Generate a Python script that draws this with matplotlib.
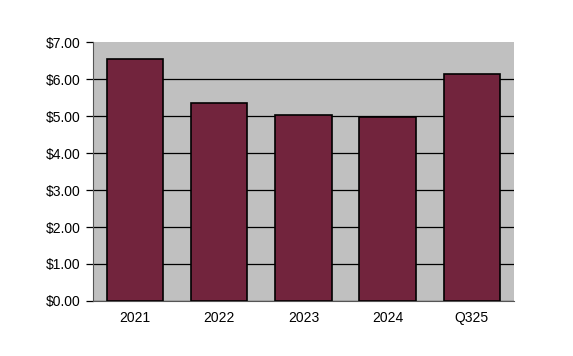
import matplotlib
matplotlib.use('Agg')
import matplotlib.pyplot as plt
from matplotlib.ticker import FuncFormatter

categories = ['2021', '2022', '2023', '2024', 'Q325']
values = [6.54, 5.36, 5.03, 4.97, 6.13]

plt.rcParams['font.family'] = ['Liberation Sans', 'DejaVu Sans']

fig = plt.figure(figsize=(5.73, 3.56), dpi=100)
ax = fig.add_axes([0.1623, 0.1545, 0.7347, 0.7275])
ax.set_facecolor('#C0C0C0')

ax.bar(range(len(categories)), values, width=0.67,
       color='#72243D', edgecolor='black', linewidth=1.2, zorder=3)

ax.set_xlim(-0.5, len(categories) - 0.5)
ax.set_ylim(0, 7)
ax.set_yticks(range(0, 8))
ax.yaxis.set_major_formatter(FuncFormatter(lambda v, p: '$%.2f' % v))
ax.set_xticks(range(len(categories)))
ax.set_xticklabels(categories)
ax.grid(axis='y', color='black', linewidth=0.9, zorder=1)
ax.set_axisbelow(True)
# no gridline along the top edge of the plot area
ax.get_ygridlines()[-1].set_visible(False)

for s in ['top', 'right']:
  ax.spines[s].set_visible(False)
ax.spines['left'].set_color('#555555')
ax.spines['bottom'].set_color('#555555')
ax.tick_params(axis='y', length=5, width=0.9, labelsize=10, pad=4)
ax.tick_params(axis='x', length=0, labelsize=10, pad=7)

fig.savefig('out.png', dpi=100)
